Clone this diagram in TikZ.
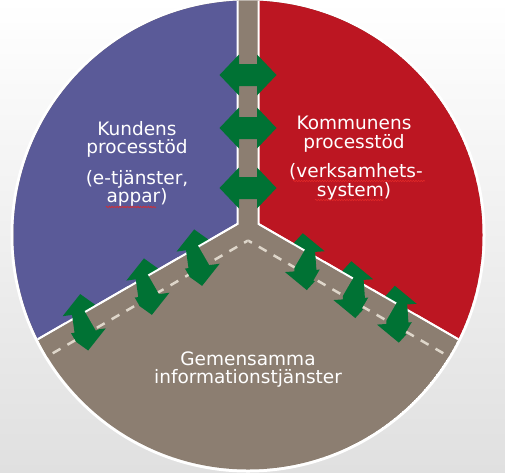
\documentclass[tikz,border=0pt]{standalone}
\usepackage{fontspec}
\setmainfont{DejaVu Sans}
\usetikzlibrary{decorations.pathmorphing}
\definecolor{sblue}{RGB}{90,90,152}
\definecolor{sred}{RGB}{188,22,34}
\definecolor{sgray}{RGB}{140,126,113}
\definecolor{sgreen}{RGB}{0,114,52}
\definecolor{sdash}{RGB}{222,214,202}
\definecolor{bgbot}{RGB}{224,224,224}
\definecolor{spellred}{RGB}{225,40,40}
\tikzset{
  dblarr/.pic={\fill[sgreen] (-28.5,0) -- (-9,20.5) -- (-9,11) -- (9,11) -- (9,20.5) -- (28.5,0) -- (9,-20.5) -- (9,-11) -- (-9,-11) -- (-9,-20.5) -- cycle;},
  wline/.style={white, line width=2pt, line join=miter},
  dline/.style={sdash, line width=2.5pt, dash pattern=on 9pt off 8pt, dash phase=4.5pt},
  piece/.style={fill=sgray},
  lbl/.style={text=white, font=\fontsize{18.5}{19}\selectfont, inner sep=0pt, anchor=base},
  spell/.style={spellred, line width=0.6pt, decorate, decoration={snake, amplitude=0.7pt, segment length=2.6pt}}
}
\begin{document}
\begin{tikzpicture}[x=1pt,y=-1pt]
\useasboundingbox (0,0) rectangle (505,472);
\shade[top color=white, bottom color=bgbot] (0,0) rectangle (505,472);
\coordinate (O) at (248,235);
\coordinate (C) at (248,230);
\coordinate (UL) at (237.5,224);
\coordinate (UR) at (258.5,224);
\coordinate (V) at (248,240.5);
\fill[white] (O) circle[radius=237.5];
\begin{scope}
  \clip (O) circle[radius=234.5];
  \fill[sgray] (O) circle[radius=234.5];
  \fill[sblue] (UL) -- ++(-346.4,200) -- (-100,-100) -- (237.5,-100) -- cycle;
  \fill[sred] (UR) -- ++(346.4,200) -- (600,-100) -- (258.5,-100) -- cycle;
  \fill[sgray] (238.5,-10) rectangle (257.5,232);
  \draw[wline] (237.5,-10) -- (UL) -- ++(-346.4,200);
  \draw[wline] (258.5,-10) -- (UR) -- ++(346.4,200);
  \draw[dline] (V) -- ++(-346.4,200);
  \draw[dline] (V) -- ++(346.4,200);
  % vertical arrows
  \pic at (248,75) {dblarr};
  \pic at (248,128) {dblarr};
  \pic at (248,188) {dblarr};
  % left diagonal
  \begin{scope}[shift={(C)}, rotate=210]
    \pic[rotate=98] at (57,1) {dblarr};
    \pic[rotate=98] at (115,1) {dblarr};
    \pic[rotate=98] at (188,2) {dblarr};
    \fill[piece] (6.06,-11) rectangle (51,9.5);
    \fill[piece] (74,-11) rectangle (109,9.5);
    \fill[piece] (132,-11) rectangle (182,9.5);
    \fill[piece] (205,-11) rectangle (320,9.5);
    \draw[wline] (74,10.5) -- (109,10.5);
    \draw[wline] (132,10.5) -- (182,10.5);
    \draw[wline] (205,10.5) -- (320,10.5);
    \draw[wline] (6.06,10.5) -- (51,10.5);
    \begin{scope}
      \clip (6.06,-12) rectangle (51,9.5) (74,-12) rectangle (109,9.5) (132,-12) rectangle (182,9.5) (205,-12) rectangle (320,9.5);
      \draw[dline] (5.25,-9.093) -- (405.25,-9.093);
    \end{scope}
  \end{scope}
  % right diagonal
  \begin{scope}[shift={(C)}, rotate=330, yscale=-1]
    \pic[rotate=94] at (65,1) {dblarr};
    \pic[rotate=94] at (121,1) {dblarr};
    \pic[rotate=94] at (171,1.5) {dblarr};
    \fill[piece] (6.06,-11) rectangle (59,9.5);
    \fill[piece] (82,-11) rectangle (115,9.5);
    \fill[piece] (138,-11) rectangle (165,9.5);
    \fill[piece] (188,-11) rectangle (320,9.5);
    \draw[wline] (6.06,10.5) -- (59,10.5);
    \draw[wline] (82,10.5) -- (115,10.5);
    \draw[wline] (138,10.5) -- (165,10.5);
    \draw[wline] (188,10.5) -- (320,10.5);
    \begin{scope}
      \clip (6.06,-12) rectangle (59,9.5) (82,-12) rectangle (115,9.5) (138,-12) rectangle (165,9.5) (188,-12) rectangle (320,9.5);
      \draw[dline] (5.25,-9.093) -- (405.25,-9.093);
    \end{scope}
  \end{scope}
\end{scope}
% texts
\node[lbl] (k1) at (137,135) {Kundens};
\node[lbl] (k2) at (137,153) {processtöd};
\node[lbl] (k3) at (137,184) {(e-tjänster,};
\node[lbl] (k4) at (137,202) {appar)};
\node[lbl] (m1) at (354,129.5) {Kommunens};
\node[lbl] (m2) at (354,148) {processtöd};
\node[lbl] (m3) at (356,177.5) {(verksamhets-};
\node[lbl] (m4) at (354,196) {system)};
\node[lbl] (g1) at (248,365) {Gemensamma};
\node[lbl] (g2) at (248,383.5) {informationstjänster};
% spell-check squiggles
\draw[spell] (106,207) -- (156,207);
\draw[spell] (293,181) -- (425,181);
\draw[spell] (315,200) -- (383,200);
\end{tikzpicture}
\end{document}
